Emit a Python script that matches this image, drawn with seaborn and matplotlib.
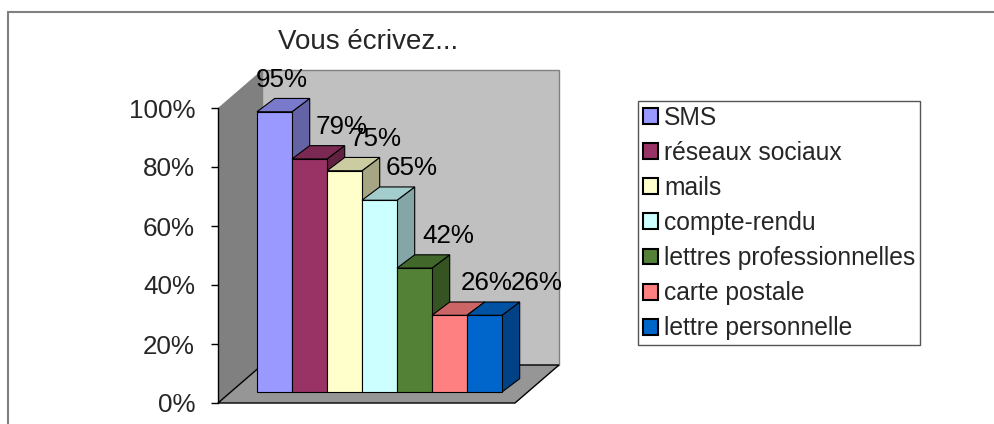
import matplotlib
matplotlib.use("Agg")
import matplotlib.pyplot as plt
import seaborn as sns
from matplotlib.patches import Polygon, Patch, Rectangle
from matplotlib.transforms import ScaledTranslation
from matplotlib.colors import to_rgb

categories = ["SMS", "réseaux sociaux", "mails", "compte-rendu",
              "lettres professionnelles", "carte postale", "lettre personnelle"]
values = [95, 79, 75, 65, 42, 26, 26]
colors = ["#9999FF", "#993366", "#FFFFCC", "#CCFFFF", "#538135", "#FF8080", "#0066CC"]
title = "Vous écrivez..."

sns.set_theme(style="white")
plt.rcParams["font.family"] = ["Liberation Sans", "DejaVu Sans"]
FS = 18.7

W, H = 995, 424
fig = plt.figure(figsize=(W / 100, H / 100), dpi=100)
# front plane of the 3D box: x 218..515 px, y 403 (0%) .. 108 (100%)
ax = fig.add_axes([218 / W, 1 - 403 / H, 297 / W, 295 / H])
ax.patch.set_visible(False)

sns.barplot(x=categories, y=values, hue=categories, palette=colors, width=1,
            saturation=1, edgecolor="black", linewidth=0.8, legend=False, ax=ax)

xl, xr = -1.243, 7.243
ax.set_xlim(xl, xr)
ax.set_ylim(0, 100)
sx = 297 / (xr - xl)   # px per x unit
sy = 295 / 100         # px per %

# walls and floor
Dx, Dy = 44 / sx, 38 / sy
wall_kw = dict(clip_on=False, zorder=0.5)
ax.add_patch(Polygon([(xl + Dx, Dy), (xr + Dx, Dy), (xr + Dx, 100 + Dy), (xl + Dx, 100 + Dy)],
                     facecolor="#C0C0C0", edgecolor="#808080", lw=1, **wall_kw))
ax.add_patch(Polygon([(xl, 0), (xl, 100), (xl + Dx, 100 + Dy), (xl + Dx, Dy)],
                     facecolor="#808080", edgecolor="none", **wall_kw))
ax.add_patch(Polygon([(xl, 0), (xr, 0), (xr + Dx, Dy), (xl + Dx, Dy)],
                     facecolor="#969696", edgecolor="black", lw=1, **wall_kw))

# 3D look for bars
shift = ax.transData + ScaledTranslation(13 / 100, 11 / 100, fig.dpi_scale_trans)
ddx, ddy = 17.7 / sx, 13.3 / sy


def shade(c, f):
    r, g, b = to_rgb(c)
    return (r * f, g * f, b * f)


label_dx = [20, 45, 44, 45, 47, 50, 65]  # px, Excel nudges labels to avoid overlap
for i, p in enumerate(ax.patches[:len(values)]):
    x0, w, h = p.get_x(), p.get_width(), p.get_height()
    z = 3 + i * 0.1
    p.set_transform(shift)
    p.set_zorder(z + 0.02)
    p.set_clip_on(False)
    top = Polygon([(x0, h), (x0 + w, h), (x0 + w + ddx, h + ddy), (x0 + ddx, h + ddy)],
                  facecolor=shade(colors[i], 0.8), edgecolor="black", lw=0.8,
                  transform=shift, clip_on=False, zorder=z)
    side = Polygon([(x0 + w, 0), (x0 + w, h), (x0 + w + ddx, h + ddy), (x0 + w + ddx, ddy)],
                   facecolor=shade(colors[i], 0.65), edgecolor="black", lw=0.8,
                   transform=shift, clip_on=False, zorder=z)
    ax.add_patch(side)
    ax.add_patch(top)
    cx = x0 + w / 2 + label_dx[i] / sx
    ax.text(cx, values[i] + 14.6, f"{values[i]}%", ha="center", va="center",
            fontsize=FS, color="black", zorder=10, clip_on=False)

ax.set_yticks(range(0, 101, 20))
ax.set_yticklabels([f"{v}%" for v in range(0, 101, 20)], fontsize=FS)
ax.set_xticks([])
ax.set_xlabel("")
ax.set_ylabel("")
ax.tick_params(axis="y", direction="out", length=5, width=1, pad=11.5, color="black", left=True)
for s in ["top", "right", "bottom"]:
    ax.spines[s].set_visible(False)
ax.spines["left"].set_color("black")
ax.spines["left"].set_linewidth(1)
ax.spines["left"].set_zorder(2.6)

fig.text(368 / W, 1 - 42 / H, title, ha="center", va="center", fontsize=20)

handles = [Patch(facecolor=c, edgecolor="black", lw=1.5) for c in colors]
leg = fig.legend(handles, categories, loc="upper left",
                 bbox_to_anchor=(638 / W, 1 - 101 / H), fontsize=17.7,
                 handlelength=0.62, handleheight=0.62, handletextpad=0.25,
                 labelspacing=0.45, borderpad=0.2, borderaxespad=0,
                 fancybox=False, framealpha=1, edgecolor="#555555")
leg.get_frame().set_linewidth(1)

fig.add_artist(Rectangle((8 / W, -0.1), 1.2, 1.1 - 12 / H, transform=fig.transFigure,
                         facecolor="none", edgecolor="#808080", lw=1.5))

fig.savefig("out.png", dpi=100)
